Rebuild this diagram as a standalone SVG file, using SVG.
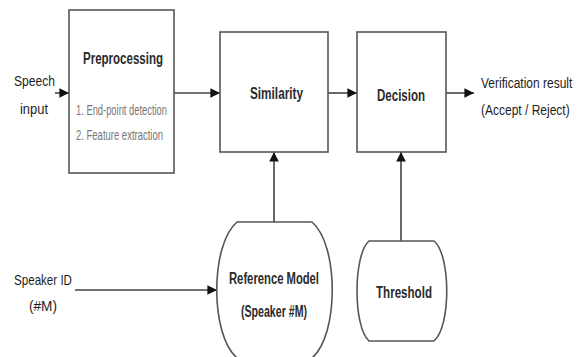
<svg xmlns="http://www.w3.org/2000/svg" width="577" height="357" viewBox="0 0 577 357">
<style>
text{font-family:"Liberation Sans",Arial,sans-serif;fill:#1e1e1e;font-size:15px}
.t{font-weight:bold;fill:#2a2a2a;font-size:16px}
.g{fill:#777;font-size:14px}
.box{fill:#fff;stroke:#555;stroke-width:1.6}
.arr{stroke:#444;stroke-width:1.6;fill:none;marker-end:url(#ah)}
</style>
<defs>
<marker id="ah" viewBox="0 0 10 10" refX="10" refY="5" markerWidth="6" markerHeight="6" orient="auto" markerUnits="strokeWidth">
<path d="M0,0 L10,5 L0,10 z" fill="#111"/>
</marker>
</defs>
<rect width="577" height="357" fill="#fff"/>
<g id="connectors">
<line class="arr" x1="55" y1="93" x2="69" y2="93"/>
<line class="arr" x1="174" y1="93" x2="220" y2="93"/>
<line class="arr" x1="328" y1="93" x2="357" y2="93"/>
<line class="arr" x1="446" y1="93" x2="474" y2="93"/>
<line class="arr" x1="75" y1="290" x2="217" y2="290"/>
<line class="arr" x1="274" y1="222" x2="274" y2="152"/>
<line class="arr" x1="401" y1="241" x2="401" y2="152"/>
</g>
<g id="speech-input">
<text x="14" y="86" textLength="41" lengthAdjust="spacingAndGlyphs">Speech</text>
<text x="20" y="114" textLength="28" lengthAdjust="spacingAndGlyphs">input</text>
</g>
<g id="preprocessing">
<rect class="box" x="69" y="10" width="105" height="163"/>
<text class="t" x="83" y="64" textLength="80" lengthAdjust="spacingAndGlyphs">Preprocessing</text>
<text class="g" x="76" y="115" textLength="91" lengthAdjust="spacingAndGlyphs">1. End-point detection</text>
<text class="g" x="76" y="140" textLength="87" lengthAdjust="spacingAndGlyphs">2. Feature extraction</text>
</g>
<g id="similarity">
<rect class="box" x="220" y="32" width="108" height="120"/>
<text class="t" x="250" y="99" textLength="53" lengthAdjust="spacingAndGlyphs">Similarity</text>
</g>
<g id="decision">
<rect class="box" x="357" y="32" width="89" height="120"/>
<text class="t" x="377" y="101" textLength="48" lengthAdjust="spacingAndGlyphs">Decision</text>
</g>
<g id="verification-result">
<text transform="translate(481,88) scale(0.8,1)">Verification result</text>
<text transform="translate(481,115) scale(0.8,1)">(Accept / Reject)</text>
</g>
<g id="speaker-id">
<text x="14" y="285" textLength="58" lengthAdjust="spacingAndGlyphs">Speaker ID</text>
<text x="29" y="311" textLength="28" lengthAdjust="spacingAndGlyphs">(#M)</text>
</g>
<g id="reference-model">
<path class="box" d="M237,222 L312,222 C339,245 339,335 312,358 L237,358 C210,335 210,245 237,222 Z"/>
<text class="t" x="229" y="284" textLength="90" lengthAdjust="spacingAndGlyphs">Reference Model</text>
<text class="t" x="241" y="317" textLength="66" lengthAdjust="spacingAndGlyphs">(Speaker #M)</text>
</g>
<g id="threshold">
<path class="box" d="M369,241 L434,241 C451,255 451,327 434,341 L369,341 C353,327 353,255 369,241 Z"/>
<text class="t" x="376" y="298" textLength="56" lengthAdjust="spacingAndGlyphs">Threshold</text>
</g>
</svg>
